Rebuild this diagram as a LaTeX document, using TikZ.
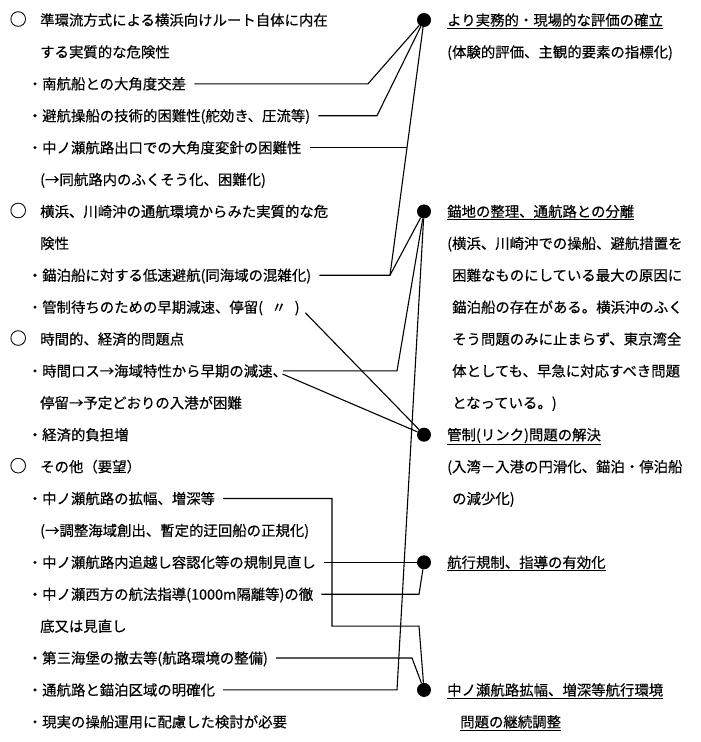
\documentclass[tikz,border=0pt]{standalone}
\usepackage{fontspec}
\setmainfont{Noto Sans CJK JP}[FakeBold=0.4]
\usetikzlibrary{calc}
\tikzset{
    txt/.style={anchor=west, inner sep=0pt, text height=12.5pt, text depth=1.5pt, font=\fontsize{14.4}{16}\selectfont},
    dot/.style={circle, fill=black, inner sep=0pt, minimum size=14pt},
    conn/.style={line width=1.1pt, shorten <=8pt},
}
\newcommand{\maru}{{\fontsize{17}{17}\selectfont ○}\hspace{13.5pt}}
\begin{document}
\begin{tikzpicture}[x=1pt, y=-31.9pt]
            \useasboundingbox (0,0.373) rectangle (700,23.633);
            \begin{scope}
                \node[txt] (l1) at (9.5,1) {\maru 準環流方式による横浜向けルート自体に内在};
                \node[txt] (l2) at (40,2) {する実質的な危険性};
                \node[txt] (l3) at (27.6,3) {・南航船との大角度交差};
                \node[txt] (l4) at (27.6,4) {・避航操船の技術的困難性(舵効き、圧流等)};
                \node[txt] (l5) at (27.6,5) {・中ノ瀬航路出口での大角度変針の困難性};
                \node[txt] (l6) at (40,6) {(→同航路内のふくそう化、困難化)};
                \node[txt] (l7) at (9.5,7) {\maru 横浜、川崎沖の通航環境からみた実質的な危};
                \node[txt] (l8) at (40,8) {険性};
                \node[txt] (l9) at (27.6,9) {・錨泊船に対する低速避航(同海域の混雑化)};
                \node[txt] (l10) at (27.6,10) {・管制待ちのための早期減速、停留(\hspace{0.6em}〃\hspace{0.6em})};
                \node[txt] (l11) at (9.5,11) {\maru 時間的、経済的問題点};
                \node[txt] (l12) at (27.6,12) {・時間ロス→海域特性から早期の減速、};
                \node[txt] (l13) at (40,13) {停留→予定どおりの入港が困難};
                \node[txt] (l14) at (27.6,14) {・経済的負担増};
                \node[txt] (l15) at (9.5,15) {\maru その他（要望）};
                \node[txt] (l16) at (27.6,16) {・中ノ瀬航路の拡幅、増深等};
                \node[txt] (l17) at (40,17) {(→調整海域創出、暫定的迂回船の正規化)};
                \node[txt] (l18) at (27.6,18) {・中ノ瀬航路内追越し容認化等の規制見直し};
                \node[txt] (l19) at (27.6,19) {・中ノ瀬西方の航法指導(1000m隔離等)の徹};
                \node[txt] (l20) at (40,20) {底又は見直し};
                \node[txt] (l21) at (27.6,21) {・第三海堡の撤去等(航路環境の整備)};
                \node[txt] (l22) at (27.6,22) {・通航路と錨泊区域の明確化};
                \node[txt] (l23) at (27.6,23) {・現実の操船運用に配慮した検討が必要};
            \end{scope}
            \begin{scope}
                \node[dot] (d1) at (424,1) {};
                \node[txt] (r1) at (447,1) {\underline{より実務的・現場的な評価の確立}};
                \node[txt] (r2) at (447,2) {(体験的評価、主観的要素の指標化)};
                \node[dot] (d2) at (424,7) {};
                \node[txt] (r7) at (447,7) {\underline{錨地の整理、通航路との分離}};
                \node[txt] (r8) at (447,8) {(横浜、川崎沖での操船、避航措置を};
                \node[txt] (r9) at (452,9) {困難なものにしている最大の原因に};
                \node[txt] (r10) at (452,10) {錨泊船の存在がある。横浜沖のふく};
                \node[txt] (r11) at (452,11) {そう問題のみに止まらず、東京湾全};
                \node[txt] (r12) at (452,12) {体としても、早急に対応すべき問題};
                \node[txt] (r13) at (452,13) {となっている。)};
                \node[dot] (d3) at (424,14) {};
                \node[txt] (r14) at (447,14) {\underline{管制(リンク)問題の解決}};
                \node[txt] (r15) at (447,15) {(入湾－入港の円滑化、錨泊・停泊船};
                \node[txt] (r16) at (452,16) {の減少化)};
                \node[dot] (d4) at (424,18) {};
                \node[txt] (r18) at (447,18) {\underline{航行規制、指導の有効化}};
                \node[dot] (d5) at (424,22) {};
                \node[txt] (r22) at (447,22) {\underline{中ノ瀬航路拡幅、増深等航行環境}};
                \node[txt] (r23) at (460,23) {\underline{問題の継続調整}};
            \end{scope}
            \coordinate (k9) at (390,9);
            \coordinate (k12) at (397,12);
            \coordinate (k22) at (397,22);
            \draw[conn] (l3.east) -- (368,3) -- (d1);
            \draw[conn] (l4.east) -- (377,4) -- (d1);
            \draw[conn] (l5.east) -- ($(d1)!.5!(k9)$);
            \draw[conn] (l9.east) -- (k9) -- (d1);
            \draw[conn, shorten <=0pt] (k9) -- (d2);
            \draw[conn] ([xshift=-12pt]l12.east) -- (k12) -- (d2);
            \draw[conn] ([xshift=-12pt]l12.east) -- (d3);
            \draw[conn] (l10.east) -- (d3);
            \draw[conn] (l22.east) -- (k22) -- (d2);
            \draw[conn] (l16.east) -- (332,16) -- (332,20) -- (419,20) -- (d5);
            \draw[conn] (l18.east) -- (d4);
            \draw[conn] (l19.east) -- (419,19) -- (d4);
            \draw[conn] (l21.east) -- (412,21) -- (d5);
        \end{tikzpicture}
\end{document}
